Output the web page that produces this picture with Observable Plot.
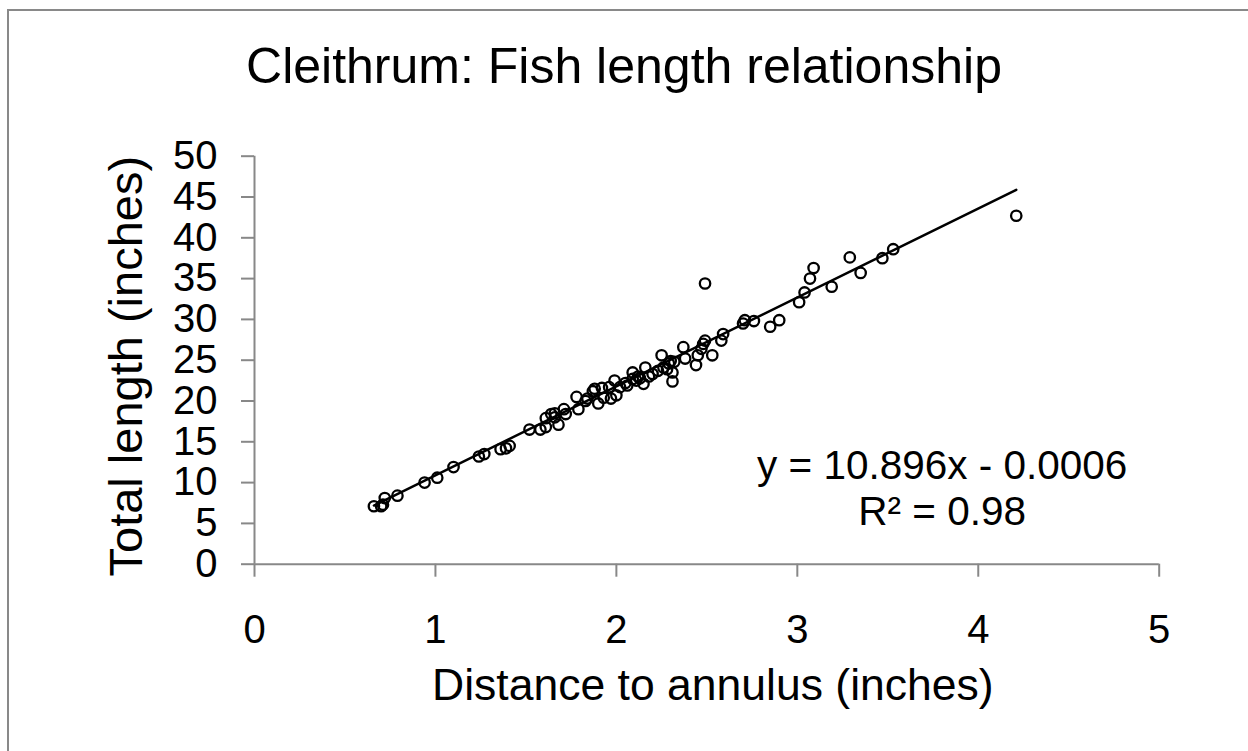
<!DOCTYPE html>
<html>
<head>
<meta charset="utf-8">
<script src="https://cdn.jsdelivr.net/npm/d3@7"></script>
<script src="https://cdn.jsdelivr.net/npm/@observablehq/plot@0.6"></script>
<style>
  html, body { margin: 0; padding: 0; background: #fff; overflow: hidden; }
  #wrap { position: relative; width: 1248px; height: 751px; overflow: hidden; font-family: "Liberation Sans", Arial, sans-serif; }
  #frame { position: absolute; left: 7px; top: 9px; width: 1241px; height: 742px; border-left: 2px solid #898989; border-top: 2px solid #898989; box-sizing: border-box; }
  #title { position: absolute; left: 0; top: 41px; width: 1248px; text-align: center; font-size: 50px; line-height: 50px; color: #000; }
  #chart { position: absolute; left: 0; top: 120px; }
</style>
</head>
<body>
<div id="wrap">
  <div id="frame"></div>
  <div id="title">Cleithrum: Fish length relationship</div>
  <div id="chart"></div>
</div>
<script>
// Distance to annulus (inches)
const distance = [
  0.66, 0.70, 0.71, 0.72, 0.79, 0.94, 1.01, 1.10, 1.24, 1.27,
  1.36, 1.39, 1.41, 1.52, 1.58, 1.61, 1.61, 1.64, 1.66, 1.66,
  1.68, 1.71, 1.72, 1.78, 1.79, 1.83, 1.84, 1.87, 1.88, 1.90,
  1.92, 1.93, 1.96, 1.97, 1.99, 2.00, 2.02, 2.05, 2.06, 2.09,
  2.09, 2.11, 2.12, 2.13, 2.15, 2.16, 2.18, 2.20, 2.23, 2.25,
  2.26, 2.28, 2.29, 2.30, 2.31, 2.31, 2.32, 2.37, 2.38, 2.44,
  2.45, 2.47, 2.48, 2.49, 2.49, 2.53, 2.58, 2.59, 2.70, 2.71,
  2.76, 2.85, 2.90, 3.01, 3.04, 3.07, 3.09, 3.19, 3.29, 3.35,
  3.47, 3.53, 4.21
];
// Total length (inches)
const totalLength = [
  7.1, 7.1, 7.3, 8.1, 8.4, 10.0, 10.6, 11.9, 13.2, 13.5,
  14.1, 14.2, 14.5, 16.5, 16.5, 16.8, 17.9, 18.4, 18.0, 18.5,
  17.1, 19.0, 18.4, 20.5, 19.0, 20.0, 20.3, 21.2, 21.5, 19.7,
  21.6, 20.4, 21.7, 20.3, 22.5, 20.7, 21.7, 22.2, 21.9, 23.5,
  22.7, 22.5, 23.0, 22.8, 22.1, 24.1, 23.0, 23.3, 23.7, 25.6,
  24.1, 23.9, 24.6, 24.9, 23.5, 22.4, 24.8, 26.6, 25.2, 24.4,
  25.6, 26.4, 27.0, 27.4, 34.4, 25.6, 27.4, 28.2, 29.5, 29.9,
  29.8, 29.1, 29.9, 32.1, 33.3, 35.0, 36.3, 34.0, 37.6, 35.7,
  37.5, 38.6, 42.7
];
const xTicks = [0, 1, 2, 3, 4, 5];
const yTicks = [0, 5, 10, 15, 20, 25, 30, 35, 40, 45, 50];
const slope = 10.896;
const intercept = -0.0006;
const equationText = "y = 10.896x - 0.0006";
const r2Text = "R² = 0.98";
const xLabel = "Distance to annulus (inches)";
const yLabel = "Total length (inches)";

const points = distance.map((d, i) => ({x: d, y: totalLength[i]}));
const fit = d3.extent(distance).map(x => ({x, y: slope * x + intercept}));

const axisColor = "#888888";
const font = "Liberation Sans, Arial, sans-serif";

const chart = Plot.plot({
  width: 1248,
  height: 631,
  marginLeft: 254,
  marginRight: 89.3,
  marginTop: 35.7,
  marginBottom: 187.3,
  x: {domain: [0, 5]},
  y: {domain: [0, 50]},
  style: {fontFamily: font, fontSize: "40px", color: "#000", background: "transparent"},
  marks: [
    Plot.axisY({ticks: yTicks, tickSize: 13, tickPadding: 24, stroke: axisColor, strokeWidth: 2, fill: "#000", fontSize: 40, label: null, tickFormat: d => String(d)}),
    Plot.axisX({ticks: xTicks, tickSize: 13, tickPadding: 37, stroke: axisColor, strokeWidth: 2, fill: "#000", fontSize: 40, label: null, tickFormat: d => String(d)}),
    Plot.ruleX([0], {stroke: axisColor, strokeWidth: 2}),
    Plot.ruleY([0], {stroke: axisColor, strokeWidth: 2}),
    Plot.dot(points, {x: "x", y: "y", r: 5.2, stroke: "#000", strokeWidth: 2.3, fill: "none"}),
    Plot.line(fit, {x: "x", y: "y", stroke: "#000", strokeWidth: 2.5}),
    Plot.text([equationText], {frameAnchor: "bottom-right", textAnchor: "middle", dx: -217, dy: -85, fontSize: 40.5, fill: "#000"}),
    Plot.text([r2Text], {frameAnchor: "bottom-right", textAnchor: "middle", dx: -217, dy: -39.5, fontSize: 40.5, fill: "#000"}),
    Plot.text([xLabel], {frameAnchor: "bottom", textAnchor: "middle", dx: 6, dy: 136, fontSize: 44.5, fill: "#000"}),
    Plot.text([yLabel], {frameAnchor: "left", textAnchor: "middle", rotate: -90, dx: -128, dy: 6, fontSize: 47, fill: "#000"})
  ]
});
document.getElementById("chart").appendChild(chart);
</script>
</body>
</html>
